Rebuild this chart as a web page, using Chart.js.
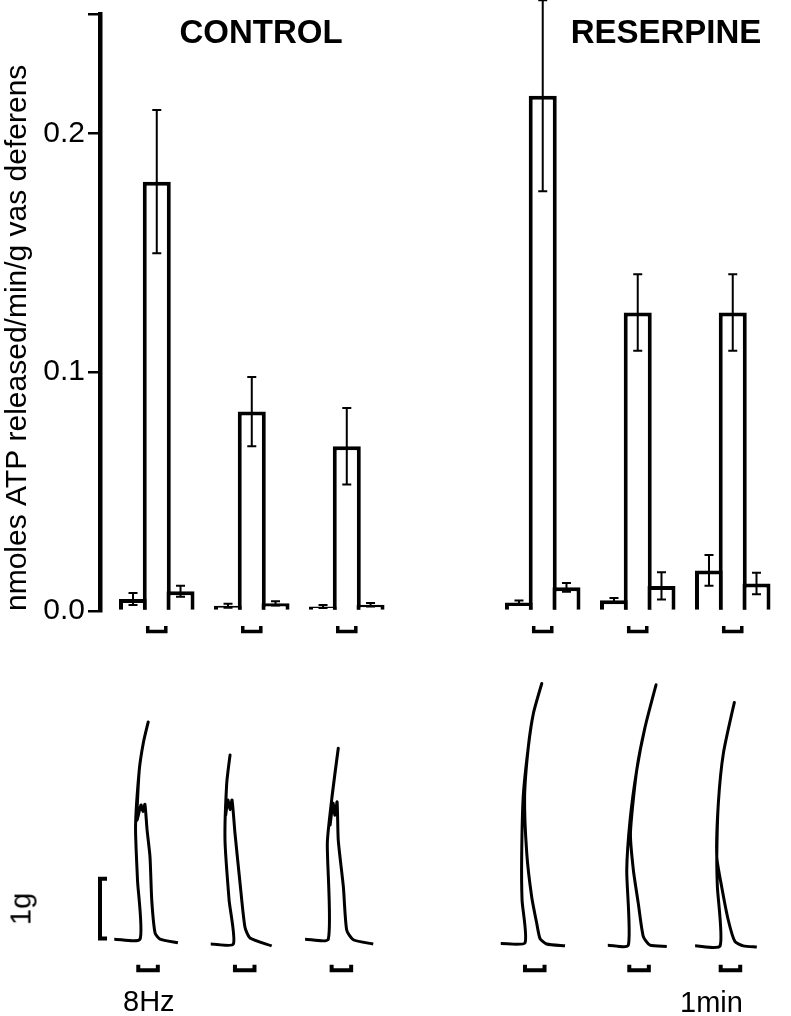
<!DOCTYPE html>
<html>
<head>
<meta charset="utf-8">
<script src="https://cdn.jsdelivr.net/npm/chart.js@4.4.1/dist/chart.umd.min.js"></script>
<style>
  html, body { margin: 0; padding: 0; background: #fff; }
  body { width: 791px; height: 1016px; position: relative; overflow: hidden; font-family: "Liberation Sans", Arial, sans-serif; }
  #barWrap { position: absolute; left: 0; top: 0; width: 791px; height: 650px; }
  #traceWrap { position: absolute; left: 0; top: 650px; width: 791px; height: 366px; }
  .lbl { position: absolute; line-height: 1; white-space: nowrap; color: #000; }
  .head { font-size: 33px; font-weight: bold; top: 15px; transform: translateX(-50%); }
  .note { font-size: 29px; }
</style>
</head>
<body>
<div id="barWrap"><canvas id="barChart"></canvas></div>
<div id="traceWrap"><canvas id="traceChart"></canvas></div>
<div class="lbl head" style="left:261px">CONTROL</div>
<div class="lbl head" style="left:666px">RESERPINE</div>
<div class="lbl note" style="left:123px; top:987px">8Hz</div>
<div class="lbl note" style="left:680px; top:988px">1min</div>
<div class="lbl note" style="left:21px; top:909px; transform: translate(-50%, -50%) rotate(-90deg)">1g</div>

<script>
// ATP release, bars: before / during 8 Hz / after, for each of 6 trials
const groupNames = ['Control', 'Control', 'Control', 'Reserpine', 'Reserpine', 'Reserpine'];
const groupX = [0, 4, 8, 16.25, 20.25, 24.25];
const beforeMean = [0.005, 0.0022, 0.0019, 0.0036, 0.0045, 0.017];
const beforeSE = [0.0025, 0.0008, 0.0006, 0.0008, 0.0009, 0.0064];
const duringMean = [0.1798, 0.0835, 0.069, 0.2158, 0.125, 0.125];
const duringSE = [0.030, 0.0145, 0.016, 0.040, 0.016, 0.016];
const afterMean = [0.0083, 0.0032, 0.0026, 0.0099, 0.0105, 0.0115];
const afterSE = [0.0023, 0.0009, 0.0007, 0.0018, 0.0057, 0.0045];

const yTicks = [0, 0.1, 0.2, 0.25];
const yTickLabels = ['0.0', '0.1', '0.2', ''];

// contraction traces (minutes along the record, grams of tension)
const ctrl1Min = [5.85, 7.17, 7.04, 6.94, 7.13, 7.34, 7.59, 7.34, 7.13, 7.01, 7.22, 7.32, 7.42, 7.53, 7.68, 7.77, 7.94, 8.19, 9.11];
const ctrl1G = [0.01, 0.01, 0.98, 1.85, 2.78, 3.23, 3.57, 3.23, 2.78, 1.96, 2.21, 2.10, 2.22, 1.80, 1.36, 0.65, 0.11, 0.01, -0.05];
const ctrl2Min = [10.79, 11.95, 11.73, 11.52, 11.61, 11.78, 11.61, 11.55, 11.67, 11.78, 11.88, 12.03, 12.29, 12.54, 12.80, 13.91];
const ctrl2G = [-0.07, -0.07, 0.65, 1.63, 2.57, 3.03, 2.57, 2.04, 2.29, 2.13, 2.29, 1.75, 0.93, 0.21, 0.03, -0.10];
const ctrl3Min = [15.62, 16.81, 16.76, 16.98, 17.32, 16.98, 16.90, 17.05, 17.15, 17.26, 17.32, 17.58, 17.75, 18.09, 19.11];
const ctrl3G = [0.01, 0.01, 1.59, 2.29, 3.14, 2.29, 1.88, 2.24, 2.04, 2.26, 1.63, 0.87, 0.16, 0.0, -0.07];
const res1Min = [25.64, 26.88, 26.73, 26.71, 26.79, 27.05, 27.31, 27.74, 27.31, 27.05, 26.86, 26.97, 27.22, 27.48, 27.65, 27.99, 28.93];
const res1G = [-0.06, -0.05, 0.65, 1.36, 2.35, 3.16, 3.71, 4.20, 3.71, 3.16, 2.34, 1.42, 0.71, 0.27, 0.02, -0.07, -0.10];
const res2Min = [31.12, 32.17, 32.09, 32.26, 32.60, 33.03, 33.59, 33.03, 32.60, 32.28, 32.43, 32.68, 32.94, 33.28, 34.14];
const res2G = [-0.09, -0.09, 1.14, 1.96, 2.78, 3.49, 4.18, 3.49, 2.78, 1.75, 1.14, 0.60, 0.05, -0.09, -0.11];
const res3Min = [35.59, 36.87, 36.73, 36.70, 36.78, 37.04, 37.60, 37.04, 36.78, 36.70, 36.95, 37.29, 37.63, 38.06, 38.75];
const res3G = [-0.10, -0.10, 0.87, 1.36, 2.24, 3.06, 3.89, 3.06, 2.24, 1.36, 0.87, 0.32, -0.03, -0.10, -0.12];

const stimStartMin = [7.08, 12.03, 16.98, 26.88, 32.22, 36.90];
const stimLengthMin = 1;
const scaleBarG = 1;

Chart.defaults.font.family = '"Liberation Sans", Arial, sans-serif';
Chart.defaults.color = '#000';

// bar points and their SE, in drawing order
const barPoints = [];
const barSE = [];
groupX.forEach((gx, g) => {
    barPoints.push({ x: gx, y: beforeMean[g] });
    barSE.push(beforeSE[g]);
    barPoints.push({ x: gx + 1, y: duringMean[g] });
    barSE.push(duringSE[g]);
    barPoints.push({ x: gx + 2, y: afterMean[g] });
    barSE.push(afterSE[g]);
});

// small stimulus brackets under the middle bars
const stimMarks = groupX.map(gx => ({
    type: 'line',
    data: [
        { x: gx + 0.62, y: -0.0063 },
        { x: gx + 0.62, y: -0.0086 },
        { x: gx + 1.38, y: -0.0086 },
        { x: gx + 1.38, y: -0.0063 }
    ],
    borderColor: '#000',
    borderWidth: 3.5,
    pointRadius: 0,
    fill: false,
    clip: false
}));

const errorBars = {
    id: 'errorBars',
    afterDatasetsDraw(chart) {
        const meta = chart.getDatasetMeta(0);
        const y = chart.scales.y;
        const ctx = chart.ctx;
        ctx.save();
        ctx.strokeStyle = '#000';
        ctx.lineWidth = 2;
        meta.data.forEach((bar, i) => {
            const top = y.getPixelForValue(barPoints[i].y + barSE[i]);
            const bot = y.getPixelForValue(barPoints[i].y - barSE[i]);
            ctx.beginPath();
            ctx.moveTo(bar.x, top);
            ctx.lineTo(bar.x, bot);
            ctx.moveTo(bar.x - 4.5, top);
            ctx.lineTo(bar.x + 4.5, top);
            ctx.moveTo(bar.x - 4.5, bot);
            ctx.lineTo(bar.x + 4.5, bot);
            ctx.stroke();
        });
        ctx.restore();
    }
};

new Chart(document.getElementById('barChart'), {
    type: 'bar',
    data: {
        datasets: [{
            label: 'ATP release',
            data: barPoints,
            backgroundColor: '#fff',
            borderColor: '#000',
            borderWidth: 4,
            barPercentage: 1.18,
            categoryPercentage: 1
        }, ...stimMarks]
    },
    options: {
        responsive: true,
        maintainAspectRatio: false,
        animation: false,
        events: [],
        layout: { padding: { top: 14, bottom: 39, left: 0, right: 6 } },
        plugins: { legend: { display: false }, tooltip: { enabled: false } },
        scales: {
            x: { type: 'linear', display: false, offset: false, grid: { offset: false }, min: -1.39, max: 27.45 },
            y: {
                min: 0,
                max: 0.25,
                afterBuildTicks: s => { s.ticks = yTicks.map(v => ({ value: v })); },
                afterFit: s => { s.width = 100; s.paddingTop = 0; s.paddingBottom = 0; },
                ticks: {
                    callback: (v, i) => yTickLabels[i],
                    font: { size: 30 },
                    padding: 3
                },
                grid: { drawOnChartArea: false, tickLength: 12, lineWidth: 2.5, color: '#000' },
                border: { display: true, width: 4.5, color: '#000' },
                title: {
                    display: true,
                    text: 'nmoles ATP released/min/g vas deferens',
                    align: 'start',
                    font: { size: 30 },
                    padding: 0
                }
            }
        }
    },
    plugins: [errorBars]
});

// contraction records
const traces = [
    [ctrl1Min, ctrl1G], [ctrl2Min, ctrl2G], [ctrl3Min, ctrl3G],
    [res1Min, res1G], [res2Min, res2G], [res3Min, res3G]
];
const lineStyle = { borderColor: '#000', pointRadius: 0, fill: false, tension: 0 };

const traceSets = traces.map(([t, g]) => ({
    ...lineStyle,
    borderWidth: 3,
    borderJoinStyle: 'round',
    tension: 0.2,
    data: t.map((m, i) => ({ x: m, y: g[i] }))
}));

const stimSets = stimStartMin.map(s => ({
    ...lineStyle,
    borderWidth: 4,
    data: [
        { x: s, y: -0.41 },
        { x: s, y: -0.50 },
        { x: s + stimLengthMin, y: -0.50 },
        { x: s + stimLengthMin, y: -0.41 }
    ]
}));

const scaleBarSet = {
    ...lineStyle,
    borderWidth: 4,
    data: [
        { x: 5.48, y: scaleBarG },
        { x: 5.12, y: scaleBarG },
        { x: 5.12, y: 0.02 },
        { x: 5.48, y: 0.02 }
    ]
};

new Chart(document.getElementById('traceChart'), {
    type: 'line',
    data: { datasets: [...traceSets, ...stimSets, scaleBarSet] },
    options: {
        responsive: true,
        maintainAspectRatio: false,
        animation: false,
        events: [],
        layout: { padding: 0 },
        plugins: { legend: { display: false }, tooltip: { enabled: false } },
        scales: {
            x: { type: 'linear', display: false, min: 0, max: 40.5 },
            y: { display: false, min: -1.25, max: 4.75 }
        }
    }
});
</script>
</body>
</html>
